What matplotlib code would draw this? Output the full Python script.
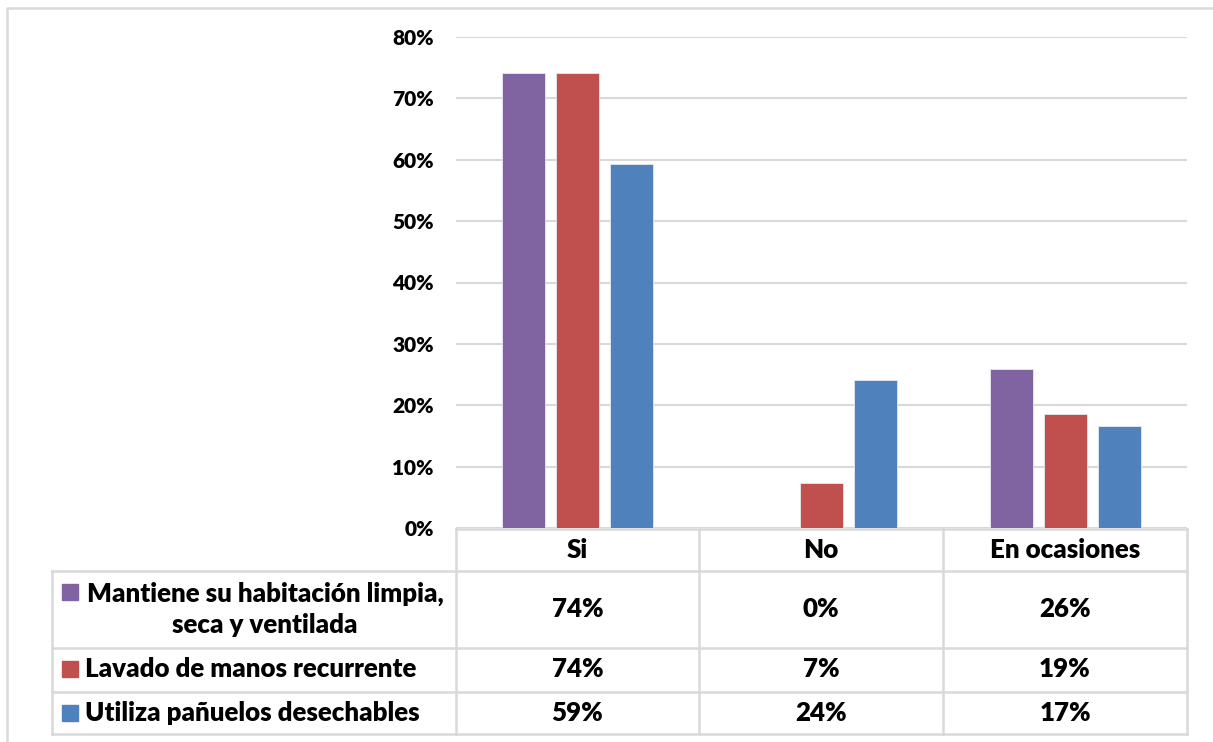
import matplotlib.pyplot as plt
import numpy as np

# percentages per answer, n = 54 respondents
categories = ['Si', 'No', 'En ocasiones']
series_names = ['Mantiene su habitación limpia,\nseca y ventilada',
                'Lavado de manos recurrente',
                'Utiliza pañuelos desechables']
habitacion = [74.07, 0.0, 25.93]
lavado = [74.07, 7.41, 18.52]
panuelos = [59.26, 24.07, 16.67]
colors = ['#8064A2', '#C0504D', '#4F81BD']
yticks = [0, 10, 20, 30, 40, 50, 60, 70, 80]

W, H = 1213, 742
plt.rcParams['font.family'] = ['Lato', 'DejaVu Sans']
WEIGHT = 'heavy'

fig = plt.figure(figsize=(W / 100, H / 100), dpi=100)

# pixel-space layer for the frame and the data table
px = fig.add_axes([0, 0, 1, 1])
px.set_xlim(0, W)
px.set_ylim(H, 0)
px.axis('off')

grid_c = '#d9d9d9'
px.plot([7, 7, W], [H, 7.5, 7.5], color=grid_c, lw=1.8)

# chart area
x0, x1, y_top, y_bot = 456, 1187, 37, 528
ax = fig.add_axes([x0 / W, (H - y_bot) / H, (x1 - x0) / W, (y_bot - y_top) / H])
ax.set_facecolor('none')

x = np.arange(len(categories))
all_series = [habitacion, lavado, panuelos]
offsets = [-0.222, 0.0, 0.222]
for vals, off, c in zip(all_series, offsets, colors):
    ax.bar(x + off, vals, width=0.176, color=c, edgecolor='#e8e8f0', linewidth=0.6, zorder=3)

ax.set_xlim(-0.5, 2.5)
ax.set_ylim(0, 80)
ax.set_yticks(yticks)
ax.set_yticklabels([f'{t}%' for t in yticks], fontsize=15, fontweight=WEIGHT)
ax.tick_params(axis='y', length=0, pad=16)
ax.set_xticks([])
ax.grid(axis='y', color=grid_c, lw=1.5, zorder=0)
for s in ax.spines.values():
    s.set_visible(False)

# table below the chart
col_edges = [x0, 699, 943, x1]
row_edges = [529, 571, 648, 692, 734]
tbl_left = 52
lw_t = 1.8
px.plot([x0, x1], [row_edges[0], row_edges[0]], color=grid_c, lw=lw_t)
for yy in row_edges[1:]:
    px.plot([tbl_left, x1], [yy, yy], color=grid_c, lw=lw_t)
for xx in col_edges:
    px.plot([xx, xx], [row_edges[0], row_edges[-1]], color=grid_c, lw=lw_t)
px.plot([tbl_left, tbl_left], [row_edges[1], row_edges[-1]], color=grid_c, lw=lw_t)

fs = 18.6
col_centers = [(a + b) / 2 for a, b in zip(col_edges[:-1], col_edges[1:])]
for cx, cat in zip(col_centers, categories):
    px.text(cx, 550, cat, ha='center', va='center', fontsize=fs, fontweight=WEIGHT)

row_centers = [609, 669, 713]
for i, (name, vals, c, cy) in enumerate(zip(series_names, all_series, colors, row_centers)):
    sq_y = 592 if i == 0 else cy
    px.add_patch(plt.Rectangle((62, sq_y - 8), 16, 16, color=c))
    if i == 0:
        px.text(265, cy, name, ha='center', va='center', fontsize=fs,
                fontweight=WEIGHT, linespacing=1.35)
    else:
        px.text(85, cy, name, ha='left', va='center', fontsize=fs, fontweight=WEIGHT)
    for cx, v in zip(col_centers, vals):
        px.text(cx, cy, f'{round(v)}%', ha='center', va='center',
                fontsize=fs, fontweight=WEIGHT)

fig.savefig('out.png', dpi=100)
